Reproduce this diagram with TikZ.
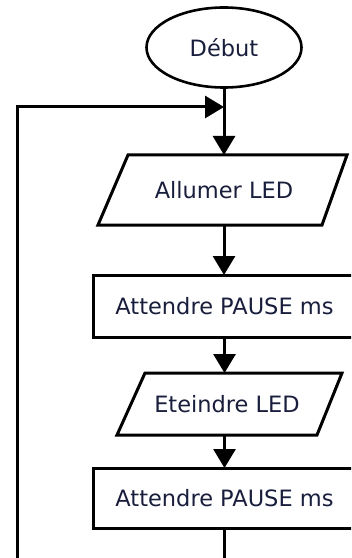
\documentclass[tikz,border=0pt]{standalone}
\usepackage{fontspec}
\usetikzlibrary{arrows.meta,shapes.geometric}
\newfontfamily\dvs{DejaVu Sans}
\definecolor{txt}{RGB}{25,30,60}
\begin{document}
\begin{tikzpicture}[x=1bp,y=-1bp,
  every node/.style={font=\dvs\fontsize{22.5bp}{26bp}\selectfont, text=txt},
  line/.style={line width=3bp, draw=black},
  flow/.style={line, -{Triangle[length=19bp,width=22bp]}},
  procbox/.style={draw=black, line width=3bp, rectangle, inner sep=0, outer sep=0, minimum width=263bp},
  iobox/.style={inner sep=0, outer sep=0}]
\clip (0,0) rectangle (351,558);
\fill[white] (0,0) rectangle (351,558);
% start
\node[ellipse, draw=black, line width=2.6bp, minimum width=155bp, minimum height=80bp, inner sep=0, outer sep=0] (start) at (224,47.5) {Début};
\coordinate (j) at (224,107);
% parallelogram 1
\node[iobox, minimum width=200bp, minimum height=70bp] (p1) at (224,190) {Allumer LED};
\draw[line, line join=miter] (98,225) -- (128,155) -- (347,155) -- (322,225) -- cycle;
% rectangle 1
\node[procbox, minimum height=62bp] (r1) at (224.5,306) {Attendre PAUSE ms};
% parallelogram 2
\node[iobox, minimum width=180bp, minimum height=62bp] (p2) at (227,404) {Eteindre LED};
\draw[line, line join=miter] (117,435) -- (145,373) -- (342,373) -- (317,435) -- cycle;
% rectangle 2
\node[procbox, minimum height=60bp] (r2) at (224.5,498) {Attendre PAUSE ms};
% connectors
\draw[flow] (start.south) -- (p1.north);
\draw[flow] (p1.south) -- (p1.south |- r1.north);
\draw[flow] (r1.south) -- (r1.south |- p2.north);
\draw[flow] (p2.south -| r2.north) -- (r2.north);
\coordinate (lb) at (17,575);
\coordinate (lt) at (17,107);
\draw[flow] (r2.south) |- (lb) -- (lt) -- (j);
\end{tikzpicture}
\end{document}
